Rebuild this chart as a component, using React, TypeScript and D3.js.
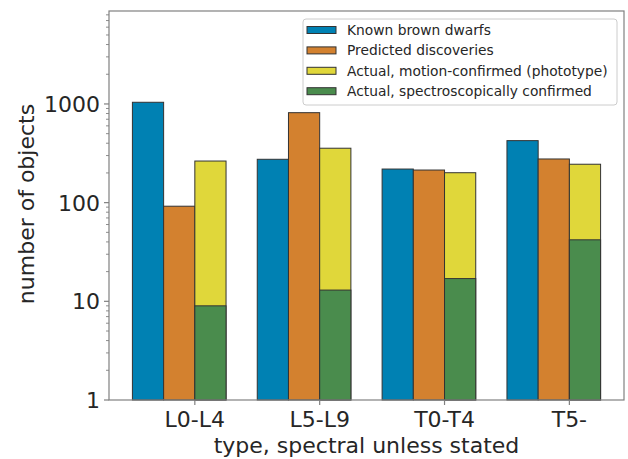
import React from "react";
import * as d3 from "d3";

const categories = ["L0-L4", "L5-L9", "T0-T4", "T5-"];
const knownBrownDwarfs = [1040, 275, 219, 425];
const predictedDiscoveries = [92, 816, 214, 277];
const motionConfirmed = [264, 356, 201, 245];
const spectroConfirmed = [9, 13, 17, 42];
const yTickValues = [1, 10, 100, 1000];
const legendLabels = [
  "Known brown dwarfs",
  "Predicted discoveries",
  "Actual, motion-confirmed (phototype)",
  "Actual, spectroscopically confirmed",
];

const COLORS = ["#0081b3", "#d3812f", "#e0d73a", "#4a8c4d"];
const W = 628;
const H = 459;
const FONT = "'DejaVu Sans', sans-serif";
const TEXT = "#262626";
const SPINE = "#808080";

export default function App() {
  const left = 109, right = 624, top = 11, bottom = 400;
  const x = d3.scaleLinear().domain([-0.6875, 3.4375]).range([left, right]);
  const y = d3.scaleLog().domain([1, Math.pow(10, 3.942)]).range([bottom, top]);
  const bw = 0.25;

  const minor: number[] = [];
  for (let p = 0; p < 4; p++) {
    for (let k = 2; k <= 9; k++) {
      const v = k * Math.pow(10, p);
      if (v <= y.domain()[1]) minor.push(v);
    }
  }

  const bar = (x0: number, v: number, color: string, key: string) => (
    <rect
      key={key}
      x={x(x0)}
      y={y(v)}
      width={x(x0 + bw) - x(x0)}
      height={y(1) - y(v)}
      fill={color}
      stroke="#333"
      strokeWidth={1}
    />
  );

  const series = [knownBrownDwarfs, predictedDiscoveries, motionConfirmed, spectroConfirmed];
  const offsets = [-0.5, -0.25, 0, 0];

  return (
    <svg
      width={W}
      height={H}
      style={{ position: "absolute", left: 0, top: 0, background: "#fff" }}
      fontFamily={FONT}
    >
      <rect x={0} y={0} width={W} height={H} fill="#fff" />
      {series.map((s, si) =>
        s.map((v, i) => bar(i + offsets[si], v, COLORS[si], `b${si}-${i}`))
      )}
      {/* spines */}
      <rect x={left} y={top} width={right - left} height={bottom - top} fill="none" stroke={SPINE} strokeWidth={1.2} />
      {/* y ticks */}
      {yTickValues.map((v) => (
        <g key={`yt${v}`}>
          <line x1={left - 5} x2={left} y1={y(v)} y2={y(v)} stroke={SPINE} strokeWidth={1.2} />
          <text x={left - 9} y={y(v)} dy="0.36em" textAnchor="end" fontSize={22} fill={TEXT}>
            {v}
          </text>
        </g>
      ))}
      {minor.map((v) => (
        <line key={`ym${v}`} x1={left - 3} x2={left} y1={y(v)} y2={y(v)} stroke={SPINE} strokeWidth={0.9} />
      ))}
      {/* x ticks */}
      {categories.map((c, i) => (
        <g key={c}>
          <line x1={x(i)} x2={x(i)} y1={bottom} y2={bottom + 5} stroke={SPINE} strokeWidth={1.2} />
          <text x={x(i)} y={bottom + 27} textAnchor="middle" fontSize={22} fill={TEXT}>
            {c}
          </text>
        </g>
      ))}
      <text x={(left + right) / 2} y={453} textAnchor="middle" fontSize={22} fill={TEXT}>
        type, spectral unless stated
      </text>
      <text
        transform={`translate(34, ${(103 + 305) / 2}) rotate(-90)`}
        textAnchor="middle"
        fontSize={22}
        fill={TEXT}
      >
        number of objects
      </text>
      {/* legend */}
      <g>
        <rect x={303} y={19} width={314} height={86} rx={3} fill="#fff" fillOpacity={0.8} stroke="#ccc" strokeWidth={1} />
        {legendLabels.map((l, i) => (
          <g key={l} transform={`translate(0, ${30 + i * 20.4})`}>
            <rect x={307} y={-3.5} width={29} height={7} fill={COLORS[i]} stroke="#333" strokeWidth={1} />
            <text x={347} y={0} dy="0.35em" fontSize={13.8} fill={TEXT}>
              {l}
            </text>
          </g>
        ))}
      </g>
    </svg>
  );
}
